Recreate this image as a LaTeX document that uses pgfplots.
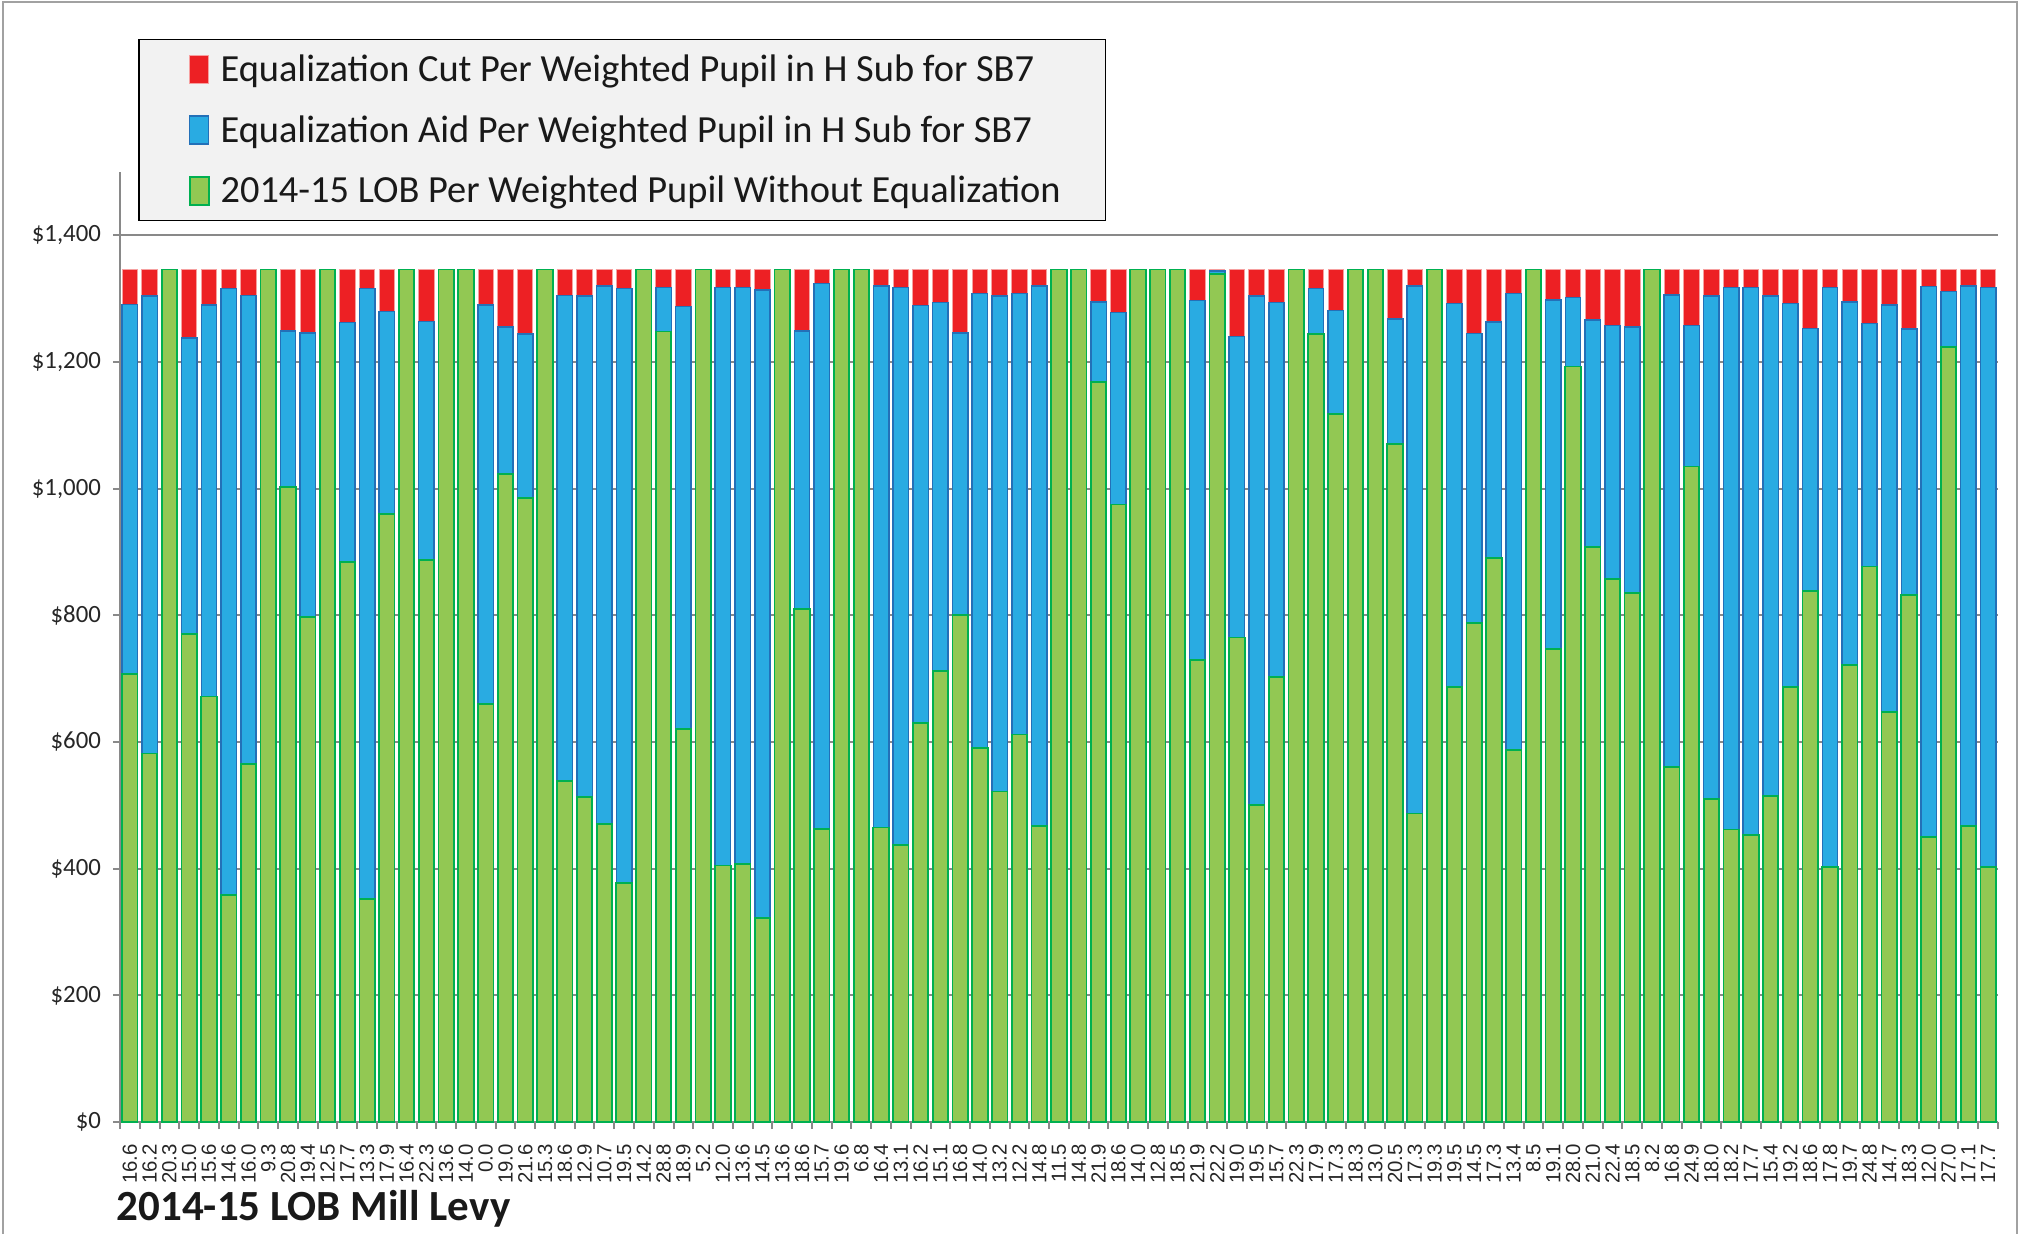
\documentclass[border=0pt]{standalone}
\usepackage{pgfplots}
\pgfplotsset{compat=1.18}
\usepackage{pgfplotstable}
\usepackage{fontspec}
\setmainfont{Carlito}
\newfontfamily\arialf{Liberation Sans}
\definecolor{cutred}{RGB}{237,32,36}
\definecolor{cutedge}{RGB}{246,160,160}
\definecolor{aidblue}{RGB}{41,171,226}
\definecolor{aidedge}{RGB}{35,112,184}
\definecolor{lobgreen}{RGB}{146,200,83}
\definecolor{lobedge}{RGB}{0,176,80}
\definecolor{axgray}{RGB}{137,137,137}
\definecolor{legfill}{RGB}{242,242,242}
\pgfplotsset{sqlegend/.style={legend image code/.code={\path (-4.5pt,0pt); \draw[##1] (0pt,-7pt) rectangle (9.5pt,7pt); \path (13pt,0pt);}}}
% x: district, g: LOB without equalization (green top), bt: top of equalization aid (blue top), tot: top of equalization cut (red top)
\pgfplotstableread{
x g bt tot
1 708 1291 1346
2 582 1304 1346
3 1346 nan nan
4 770 1238 1346
5 672 1290 1346
6 358 1316 1346
7 565 1305 1346
8 1346 nan nan
9 1003 1249 1346
10 797 1246 1346
11 1346 nan nan
12 884 1262 1346
13 352 1316 1346
14 960 1280 1346
15 1346 nan nan
16 887 1264 1346
17 1346 nan nan
18 1346 nan nan
19 660 1290 1346
20 1023 1255 1346
21 985 1244 1346
22 1346 nan nan
23 538 1305 1346
24 513 1304 1346
25 470 1320 1346
26 377 1316 1346
27 1346 nan nan
28 1248 1318 1346
29 620 1288 1346
30 1346 nan nan
31 405 1318 1346
32 407 1318 1346
33 322 1314 1346
34 1346 nan nan
35 810 1249 1346
36 463 1324 1346
37 1346 nan nan
38 1346 nan nan
39 465 1320 1346
40 437 1318 1346
41 630 1289 1346
42 712 1294 1346
43 800 1246 1346
44 590 1308 1346
45 522 1304 1346
46 612 1308 1346
47 468 1320 1346
48 1346 nan nan
49 1346 nan nan
50 1168 1295 1346
51 975 1278 1346
52 1346 nan nan
53 1346 nan nan
54 1346 nan nan
55 730 1297 1346
56 1339 1344 1346
57 765 1240 1346
58 500 1304 1346
59 703 1294 1346
60 1346 nan nan
61 1244 1316 1346
62 1118 1281 1346
63 1346 nan nan
64 1346 nan nan
65 1070 1268 1346
66 487 1320 1346
67 1346 nan nan
68 687 1292 1346
69 788 1245 1346
70 890 1263 1346
71 588 1308 1346
72 1346 nan nan
73 747 1298 1346
74 1193 1302 1346
75 908 1266 1346
76 858 1258 1346
77 835 1255 1346
78 1346 nan nan
79 560 1306 1346
80 1035 1258 1346
81 510 1304 1346
82 462 1318 1346
83 453 1318 1346
84 515 1304 1346
85 687 1292 1346
86 838 1253 1346
87 403 1318 1346
88 722 1295 1346
89 877 1261 1346
90 648 1290 1346
91 832 1252 1346
92 450 1319 1346
93 1224 1311 1346
94 468 1320 1346
95 403 1318 1346
}\datatable
\begin{document}
\begin{tikzpicture}
\useasboundingbox (0,0) rectangle (1010.5pt,616.5pt);
\draw[axgray!80, line width=1pt] (1.5pt,-10pt) rectangle (1008.5pt,615.5pt);
\begin{axis}[
  at={(60pt,55.5pt)}, anchor=south west,
  scale only axis, width=939pt, height=475pt,
  ybar, bar shift=0pt, bar width=0.78,
  xmin=0.5, xmax=95.5, ymin=0, ymax=1500,
  axis x line*=bottom, axis y line*=left,
  axis line style={draw=axgray, line width=1pt},
  xtick={1,...,95},
  xticklabels={16.6,16.2,20.3,15.0,15.6,14.6,16.0,9.3,20.8,19.4,12.5,17.7,13.3,17.9,16.4,22.3,13.6,14.0,0.0,19.0,21.6,15.3,18.6,12.9,10.7,19.5,14.2,28.8,18.9,5.2,12.0,13.6,14.5,13.6,18.6,15.7,19.6,6.8,16.4,13.1,16.2,15.1,16.8,14.0,13.2,12.2,14.8,11.5,14.8,21.9,18.6,14.0,12.8,18.5,21.9,22.2,19.0,19.5,15.7,22.3,17.9,17.3,18.3,13.0,20.5,17.3,19.3,19.5,14.5,17.3,13.4,8.5,19.1,28.0,21.0,22.4,18.5,8.2,16.8,24.9,18.0,18.2,17.7,15.4,19.2,18.6,17.8,19.7,24.8,14.7,18.3,12.0,27.0,17.1,17.7},
  minor xtick={0.5,1.5,...,95.5},
  major x tick style={draw=none},
  minor x tick style={draw=axgray, line width=1pt},
  tick align=outside, major tick length=3.5pt, minor tick length=3.5pt,
  ytick={0,200,...,1400},
  yticklabels={\$0,\$200,\$400,\$600,\$800,{\$1,000},{\$1,200},{\$1,400}},
  y tick style={draw=axgray, line width=1pt},
  ymajorgrids, major grid style={draw=axgray, line width=1pt},
  xticklabel shift=4pt,
  xticklabel style={rotate=90, anchor=east, font=\arialf\fontsize{10.2}{12}\selectfont, text=black!85},
  yticklabel style={font=\fontsize{12.4}{14}\selectfont, text=black!85, xshift=-2.5pt},
  xlabel={2014-15 LOB Mill Levy},
  xlabel style={at={(axis description cs:-0.0055,-0.1032)}, anchor=base west, font=\bfseries\fontsize{21.5}{25}\selectfont, text=black!90},
  legend style={at={(axis description cs:0.0096,1.14)}, anchor=north west, fill=legfill, draw=black, line width=0.75pt, inner xsep=20.5pt, inner ysep=5.5pt, row sep=11.5pt, font=\fontsize{19.2}{22}\selectfont, text=black!90},
  legend cell align=left,
]
\addplot[fill=cutred, draw=cutedge, line width=0.5pt, sqlegend] table[x=x, y=tot] {\datatable};
\addlegendentry{Equalization Cut Per Weighted Pupil in H Sub for SB7}
\addplot[fill=aidblue, draw=aidedge, line width=0.75pt, sqlegend] table[x=x, y=bt] {\datatable};
\addlegendentry{Equalization Aid Per Weighted Pupil in H Sub for SB7}
\addplot[fill=lobgreen, draw=lobedge, line width=0.9pt, sqlegend] table[x=x, y=g] {\datatable};
\addlegendentry{2014-15 LOB Per Weighted Pupil Without Equalization}
\end{axis}
\end{tikzpicture}
\end{document}
